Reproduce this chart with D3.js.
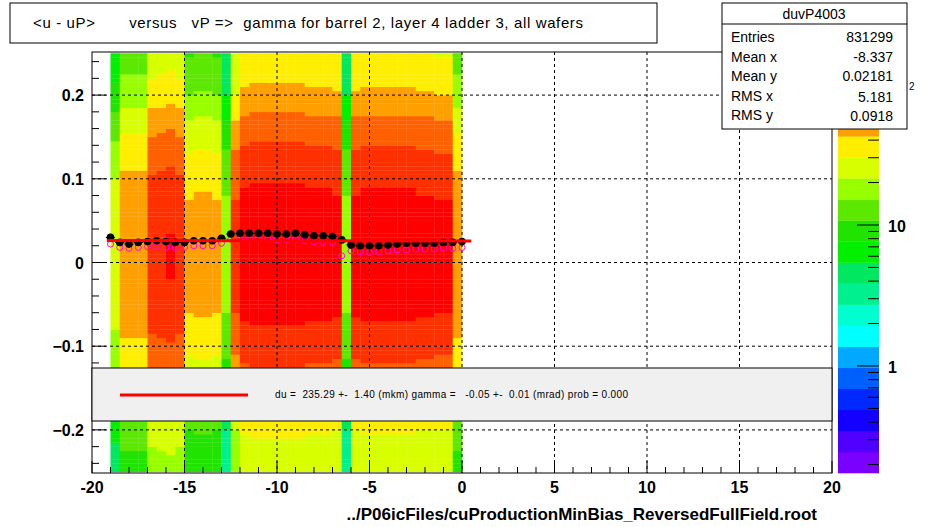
<!DOCTYPE html><html><head><meta charset="utf-8">
<script src="https://cdn.jsdelivr.net/npm/d3@7"></script>
<style>body{margin:0;background:#fff}text{font-family:Arial,"Liberation Sans",sans-serif}</style></head><body>
<svg id="c" width="926" height="527"></svg>
<script>
// column amplitude (peak counts) per 0.5-wide x bin from -19 to 0
const colStarts = d3.range(-19, 0, 0.5);
const colPeak = [28, 60,60,60, 115,120,125,115, 50,52,52,50, 18, 100,
  150,155,155,155,155,155,155,150,150,150,145, 18,
  145,150,150,150,150,150,150,145,145,140,140, 60];
// relative y profile at y = -0.25 .. 0.25 step 0.05
const yNodes = [-0.25,-0.2,-0.15,-0.1,-0.05,0,0.05,0.1,0.15,0.2,0.25];
const yShape = [0.15,0.21,0.42,0.66,0.9,1.0,0.95,0.76,0.52,0.3,0.21];
// profile points
const profX = d3.range(-19, 0.01, 0.5);
const profBlack = [0.030,0.024,0.022,0.024,0.025,0.026,0.025,0.024,0.024,0.026,0.026,0.026,0.029,0.034,0.035,0.035,0.035,0.035,0.034,0.034,0.035,0.033,0.032,0.032,0.031,0.027,0.021,0.020,0.020,0.020,0.021,0.022,0.023,0.023,0.023,0.023,0.024,0.024,0.025];
const profMag = [0.022,0.018,0.017,0.018,0.019,0.019,0.018,0.018,0.018,0.020,0.020,0.020,0.023,0.028,0.028,0.028,0.028,0.028,0.027,0.027,0.028,0.026,0.025,0.024,0.024,0.008,0.014,0.013,0.012,0.013,0.014,0.015,0.015,0.016,0.016,0.016,0.017,0.017,0.018];
const palette = ["#7a00ff","#5000ff","#1400ff","#0028ff","#0060ff","#00a8ff","#00ffff","#00ffd0","#00f090","#00e860","#00f000","#20e400","#5ce800","#98ff00","#d8ff00","#ffee00","#ffa000","#ff6000","#ff3000","#ff0000"];
const xTicks = [-20,-15,-10,-5,0,5,10,15,20];
const yTicks = [-0.2,-0.1,0,0.1,0.2];

const svg = d3.select("#c");
const L=92,R=832,T=52,B=473;
const x = d3.scaleLinear().domain([-20,20]).range([L,R]);
const y = d3.scaleLinear().domain([-0.2515,0.2515]).range([B,T]);
const zlog = d3.scaleLinear().domain([Math.log10(0.17),Math.log10(170)]).range([0,20]);
const yInterp = d3.scaleLinear().domain(yNodes).range(yShape);
const col = v => palette[Math.max(0,Math.min(19,Math.floor(zlog(Math.log10(v)))))];

const g = svg.append("g");
const yb = d3.range(-0.25,0.25,0.005);
colStarts.forEach((cx,i)=>{
  yb.forEach(cy=>{
    const v = colPeak[i]*yInterp(cy+0.0025);
    g.append("rect").attr("x",x(cx)).attr("y",y(cy+0.005)).attr("width",x(cx+0.5)-x(cx)+0.3)
     .attr("height",y(cy)-y(cy+0.005)+0.3).attr("fill",col(v));
  });
});
// grid
const grid = svg.append("g").attr("stroke","#000").attr("stroke-dasharray","3,3").attr("stroke-width",1);
xTicks.slice(1,-1).forEach(t=>grid.append("line").attr("x1",x(t)).attr("x2",x(t)).attr("y1",T).attr("y2",B));
yTicks.forEach(t=>grid.append("line").attr("x1",L).attr("x2",R).attr("y1",y(t)).attr("y2",y(t)));
svg.append("rect").attr("x",L).attr("y",T).attr("width",R-L).attr("height",B-T).attr("fill","none").attr("stroke","#000");
// ticks inside
const tk = svg.append("g").attr("stroke","#000");
d3.range(-20,20.01,1).forEach(t=>{const m=Math.abs(t%5)<1e-6; tk.append("line").attr("x1",x(t)).attr("x2",x(t)).attr("y1",B).attr("y2",B-(m?12:6));});
d3.range(-0.24,0.25,0.02).forEach(t=>{const m=Math.abs(Math.round(t*100)%10)===0; tk.append("line").attr("x1",L).attr("x2",L+(m?14:7)).attr("y1",y(t)).attr("y2",y(t));});
xTicks.forEach(t=>svg.append("text").attr("x",x(t)).attr("y",493).attr("text-anchor","middle").attr("font-size",16).attr("font-weight","bold").text(t));
yTicks.forEach(t=>svg.append("text").attr("x",84).attr("y",y(t)+6).attr("text-anchor","end").attr("font-size",16).attr("font-weight","bold").text(t===0?"0":d3.format(".1f")(t)));
svg.append("text").attr("x",817).attr("y",520).attr("text-anchor","end").attr("font-size",17).attr("font-weight","bold").text("../P06icFiles/cuProductionMinBias_ReversedFullField.root");
// profile points
profX.forEach((px,i)=>{
  svg.append("circle").attr("cx",x(px)).attr("cy",y(profMag[i])).attr("r",3).attr("fill","none").attr("stroke","#ff00ff");
});
profX.forEach((px,i)=>{
  svg.append("line").attr("x1",x(px-0.25)).attr("x2",x(px+0.25)).attr("y1",y(profBlack[i])).attr("y2",y(profBlack[i])).attr("stroke","#000");
  svg.append("circle").attr("cx",x(px)).attr("cy",y(profBlack[i])).attr("r",3.8).attr("fill","#000");
});
svg.append("line").attr("x1",x(-19.2)).attr("x2",x(0.5)).attr("y1",y(0.0262)).attr("y2",y(0.0258)).attr("stroke","#ff0000").attr("stroke-width",3);
// fit box
svg.append("rect").attr("x",L).attr("y",368).attr("width",R-L).attr("height",53).attr("fill","#f0f0f0").attr("stroke","#000");
svg.append("line").attr("x1",120).attr("x2",248).attr("y1",395).attr("y2",395).attr("stroke","#ff0000").attr("stroke-width",3);
svg.append("text").attr("x",275).attr("y",398).attr("font-size",10).attr("textLength",353).attr("xml:space","preserve").text("du =  235.29 +-  1.40 (mkm) gamma =   -0.05 +-  0.01 (mrad) prob = 0.000");
// color bar
const zb = svg.append("g");
palette.forEach((c,i)=>zb.append("rect").attr("x",838).attr("y",B-(i+1)*(B-T)/20).attr("width",41).attr("height",(B-T)/20+0.3).attr("fill",c));
const zy = v => 366-141*Math.log10(v);
[0.2,0.3,0.4,0.5,0.6,0.7,0.8,0.9,1,2,3,4,5,6,7,8,9,10,20,30,40,50,60,70,80,90,100].forEach(v=>{
  const maj=[1,10,100].includes(v);
  if(zy(v)>T&&zy(v)<B) zb.append("line").attr("x1",879).attr("x2",879-(maj?22:11)).attr("y1",zy(v)).attr("y2",zy(v)).attr("stroke","#000");
});
svg.append("text").attr("x",888).attr("y",zy(10)+7).attr("font-size",16).attr("font-weight","bold").text("10");
svg.append("text").attr("x",888).attr("y",zy(1)+7).attr("font-size",16).attr("font-weight","bold").text("1");
svg.append("text").attr("x",888).attr("y",97).attr("font-size",16).attr("font-weight","bold").text("10");
svg.append("text").attr("x",909).attr("y",90).attr("font-size",10).text("2");
// title
svg.append("rect").attr("x",10).attr("y",3).attr("width",647).attr("height",40).attr("fill","#fff").attr("stroke","#000");
svg.append("text").attr("x",33).attr("y",28).attr("font-size",15).attr("textLength",550).attr("xml:space","preserve").text("<u - uP>       versus   vP =>  gamma for barrel 2, layer 4 ladder 3, all wafers");
// stats
svg.append("rect").attr("x",722).attr("y",3).attr("width",185).attr("height",126).attr("fill","#fff").attr("stroke","#000");
svg.append("line").attr("x1",722).attr("x2",907).attr("y1",24).attr("y2",24).attr("stroke","#000");
svg.append("text").attr("x",814).attr("y",19).attr("text-anchor","middle").attr("font-size",14).text("duvP4003");
const sl=["Entries","Mean x","Mean y","RMS x","RMS y"], sv=["831299","-8.337","0.02181","5.181","0.0918"];
sl.forEach((s,i)=>{const yy=42+i*19.5;
  svg.append("text").attr("x",731).attr("y",yy).attr("font-size",14).text(s);
  svg.append("text").attr("x",893).attr("y",yy+(i>2?1:0)).attr("text-anchor","end").attr("font-size",14).text(sv[i]);});
</script></body></html>
